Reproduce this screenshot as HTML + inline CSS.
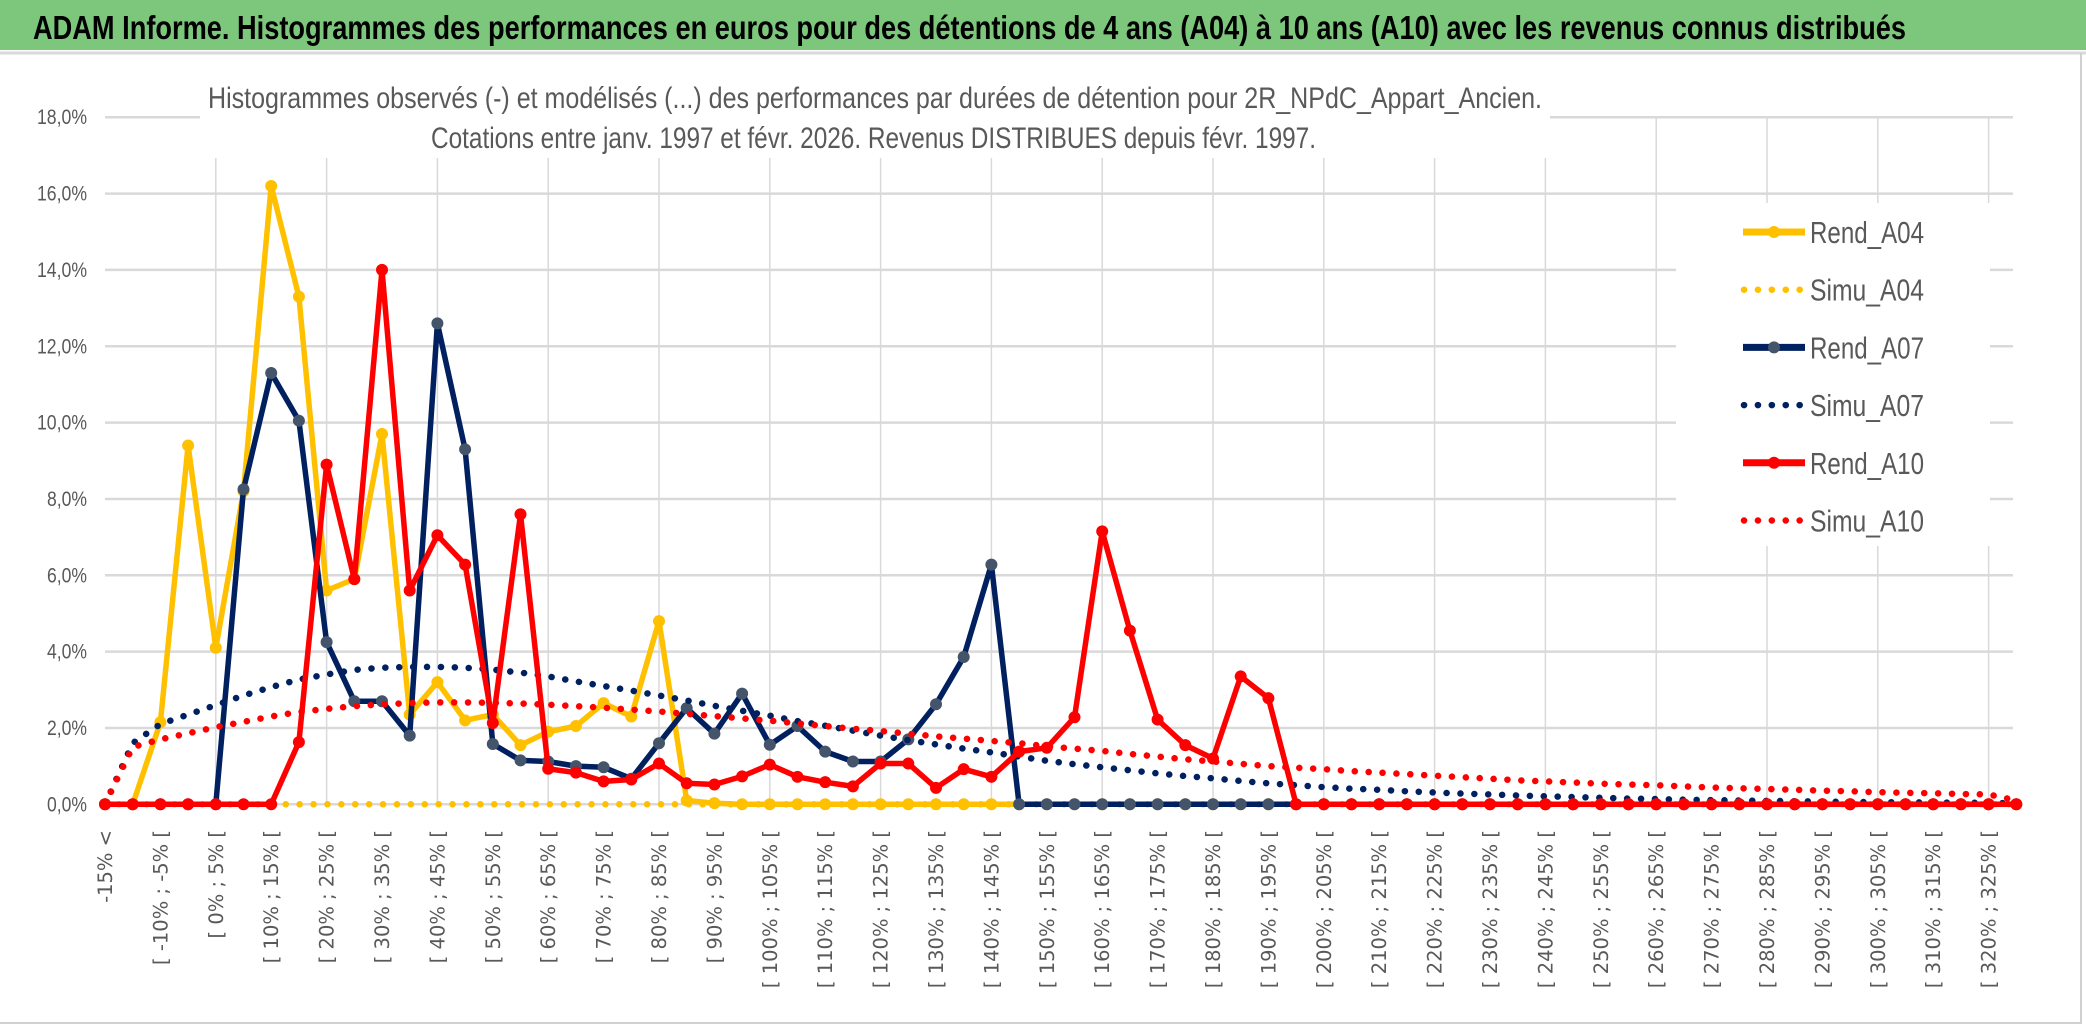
<!DOCTYPE html>
<html><head><meta charset="utf-8"><style>
html,body{margin:0;padding:0;background:#fff;}
svg{display:block;}
</style></head><body>
<svg id="chart" width="2086" height="1031" viewBox="0 0 2086 1031" xmlns="http://www.w3.org/2000/svg">
<rect x="0" y="0" width="2086" height="1031" fill="#fff"/>
<rect x="0" y="0" width="2086" height="50" fill="#7DC77D"/>
<line x1="0" y1="53" x2="2086" y2="53" stroke="#d9d9d9" stroke-width="3"/>
<line x1="2081" y1="53" x2="2081" y2="1023" stroke="#d0d0d0" stroke-width="2"/>
<line x1="0" y1="1023" x2="2082" y2="1023" stroke="#d0d0d0" stroke-width="2"/>
<text x="33" y="39" font-family="Liberation Sans, sans-serif" font-weight="bold" font-size="33" fill="#000" textLength="1873" lengthAdjust="spacingAndGlyphs">ADAM Informe. Histogrammes des performances en euros pour des détentions de 4 ans (A04) à 10 ans (A10) avec les revenus connus distribués</text>
<g id="grid"></g>
<rect x="200" y="62" width="1350" height="96" fill="#fff"/>
<text x="208" y="108" font-family="Liberation Sans, sans-serif" font-size="30" fill="#595959" textLength="1334" lengthAdjust="spacingAndGlyphs">Histogrammes observés (-) et modélisés (...) des performances par durées de détention pour 2R_NPdC_Appart_Ancien.</text>
<text x="431" y="148" font-family="Liberation Sans, sans-serif" font-size="30" fill="#595959" textLength="885" lengthAdjust="spacingAndGlyphs">Cotations entre janv. 1997 et févr. 2026. Revenus DISTRIBUES depuis févr. 1997.</text>
<g id="yaxis"></g>
<g id="xaxis"></g>
<g id="series"></g>
<rect x="1676" y="203" width="314" height="343" fill="#fff"/>
<g id="legend"></g>
</svg>
<script>
const categories = ["-15% <"];
for (let s = -15; s <= 325; s += 5) categories.push("[ " + s + "% ; " + (s + 5) + "% [");
const yTicks = ["0,0%","2,0%","4,0%","6,0%","8,0%","10,0%","12,0%","14,0%","16,0%","18,0%"];
const yTickValues = [0,2,4,6,8,10,12,14,16,18];
const rendA04 = [0,0,2.15,9.4,4.1,8.2,16.2,13.3,5.6,5.9,9.7,2.35,3.2,2.2,2.35,1.55,1.9,2.05,2.65,2.3,4.8,0.1,0.03,0,0,0,0,0,0,0,0,0,0,0,0,0,0,0,0,0,0,0,0,0,0,0,0,0,0,0,0,0,0,0,0,0,0,0,0,0,0,0,0,0,0,0,0,0,0,0];
const simuA04 = [0,0,0,0,0,0,0,0,0,0,0,0,0,0,0,0,0,0,0,0,0,0,0,0,0,0,0,0,0,0,0,0,0,0,0,0,0,0,0,0,0,0,0,0,0,0,0,0,0,0,0,0,0,0,0,0,0,0,0,0,0,0,0,0,0,0,0,0,0,0];
const rendA07 = [0,0,0,0,0,8.25,11.3,10.05,4.25,2.7,2.7,1.8,12.6,9.3,1.58,1.15,1.12,1.0,0.97,0.67,1.6,2.52,1.85,2.9,1.56,2.05,1.38,1.12,1.12,1.7,2.62,3.86,6.28,0,0,0,0,0,0,0,0,0,0,0,0,0,0,0,0,0,0,0,0,0,0,0,0,0,0,0,0,0,0,0,0,0,0,0,0,0];
const simuA07 = [0,1.6,2.1,2.35,2.6,2.85,3.07,3.27,3.4,3.52,3.58,3.6,3.6,3.58,3.53,3.45,3.35,3.22,3.1,2.98,2.85,2.72,2.58,2.45,2.32,2.18,2.06,1.93,1.8,1.68,1.57,1.46,1.36,1.25,1.14,1.05,0.97,0.89,0.81,0.74,0.68,0.61,0.55,0.5,0.45,0.41,0.38,0.34,0.31,0.28,0.26,0.23,0.21,0.19,0.17,0.15,0.14,0.12,0.11,0.1,0.09,0.08,0.07,0.06,0.06,0.05,0.05,0.04,0.04,0.02];
const rendA10 = [0,0,0,0,0,0,0,1.63,8.9,5.9,14.0,5.6,7.05,6.28,2.13,7.6,0.93,0.83,0.6,0.65,1.07,0.55,0.52,0.73,1.04,0.72,0.58,0.47,1.07,1.07,0.43,0.92,0.72,1.38,1.48,2.28,7.15,4.55,2.22,1.55,1.2,3.35,2.78,0,0,0,0,0,0,0,0,0,0,0,0,0,0,0,0,0,0,0,0,0,0,0,0,0,0,0];
const simuA10 = [0,1.5,1.7,1.86,2.02,2.16,2.3,2.42,2.5,2.57,2.62,2.65,2.67,2.67,2.66,2.64,2.61,2.57,2.53,2.48,2.43,2.37,2.31,2.25,2.19,2.12,2.05,1.98,1.92,1.85,1.78,1.72,1.66,1.6,1.52,1.46,1.4,1.32,1.25,1.18,1.12,1.06,1.0,0.96,0.92,0.87,0.83,0.79,0.75,0.71,0.67,0.63,0.6,0.57,0.54,0.52,0.5,0.47,0.44,0.42,0.4,0.38,0.36,0.34,0.32,0.3,0.29,0.27,0.26,0.1];

const NS = "http://www.w3.org/2000/svg";
const X0 = 105, DX = 27.7, Y0 = 804.3, YK = 38.17;
function xPos(i){ return X0 + i * DX; }
function yPos(v){ return Y0 - v * YK; }
function mk(tag, attrs, parent){ const e = document.createElementNS(NS, tag); for (const k in attrs) e.setAttribute(k, attrs[k]); parent.appendChild(e); return e; }

const grid = document.getElementById("grid");
yTickValues.forEach((v, k) => {
  const l = mk("line", {x1: X0, x2: 2013, y1: yPos(v), y2: yPos(v), stroke: "#D9D9D9", "stroke-width": 2.5}, grid);
  
  
});
for (let i = 4; i < categories.length; i += 4) {
  const l = mk("line", {x1: xPos(i), x2: xPos(i), y1: yPos(18), y2: Y0, stroke: "#D9D9D9", "stroke-width": 1.5}, grid);
  
  
}

const yaxis = document.getElementById("yaxis");
yTickValues.forEach((v, k) => {
  const t = mk("text", {x: 87, y: yPos(v) + 7, "text-anchor": "end", "font-family": "Liberation Sans, sans-serif", "font-size": 21, fill: "#595959", textLength: yTicks[k].length * 10, lengthAdjust: "spacingAndGlyphs"}, yaxis);
  t.textContent = yTicks[k];
  
  
});

const xaxis = document.getElementById("xaxis");
categories.forEach((c, i) => {
  if (i % 2 === 1) return;
  if (i > 68) return;
  const x = xPos(i);
  const t = mk("text", {x: 0, y: 0, transform: "translate(" + x + ",830) rotate(-90)", "text-anchor": "end", dy: "0.36em", "font-family": "DejaVu Sans, sans-serif", "font-size": 19.5, fill: "#595959"}, xaxis);
  t.textContent = c;
  
  
});

const series = document.getElementById("series");
function pts(arr){ return arr.map((v, i) => xPos(i).toFixed(1) + "," + yPos(v).toFixed(1)).join(" "); }
function solid(arr, color, mcolor, name){
  const g = mk("g", {}, series);
  
  
  mk("polyline", {points: pts(arr), fill: "none", stroke: color, "stroke-width": 5.5, "stroke-linejoin": "round"}, g);
  arr.forEach((v, i) => {
    const c = mk("circle", {cx: xPos(i), cy: yPos(v), r: 5.5, fill: mcolor, stroke: mcolor, "stroke-width": 1}, g);
    
    
  });
}
function dotted(arr, color, name){
  const p = mk("polyline", {points: pts(arr), fill: "none", stroke: color, "stroke-width": 6.5, "stroke-linecap": "round", "stroke-dasharray": "0.1 13.8"}, series);
  
  
}
solid(rendA04, "#FFC000", "#FFC000", "series-rend-a04");
dotted(simuA04, "#FFC000", "series-simu-a04");
solid(rendA07, "#002060", "#44546A", "series-rend-a07");
dotted(simuA07, "#002060", "series-simu-a07");
solid(rendA10, "#FF0000", "#FF0000", "series-rend-a10");
dotted(simuA10, "#FF0000", "series-simu-a10");

const legendNames = ["Rend_A04","Simu_A04","Rend_A07","Simu_A07","Rend_A10","Simu_A10"];
const legendColors = ["#FFC000","#FFC000","#002060","#002060","#FF0000","#FF0000"];
const legendMarkers = ["#FFC000","#FFC000","#44546A","#44546A","#FF0000","#FF0000"];
const legend = document.getElementById("legend");
legendNames.forEach((n, k) => {
  const y = 232 + k * 57.7;
  const g = mk("g", {}, legend);
  
  
  if (k % 2 === 0) {
    mk("line", {x1: 1743, x2: 1805, y1: y, y2: y, stroke: legendColors[k], "stroke-width": 7}, g);
    mk("circle", {cx: 1774, cy: y, r: 6, fill: legendMarkers[k]}, g);
  } else {
    mk("line", {x1: 1744, x2: 1800, y1: y, y2: y, stroke: legendColors[k], "stroke-width": 6.5, "stroke-linecap": "round", "stroke-dasharray": "0.1 13.8"}, g);
  }
  const t = mk("text", {x: 1810, y: y + 11, "font-family": "Liberation Sans, sans-serif", "font-size": 31, fill: "#595959", textLength: 114, lengthAdjust: "spacingAndGlyphs"}, g);
  t.textContent = n;
});
</script>
</body></html>
